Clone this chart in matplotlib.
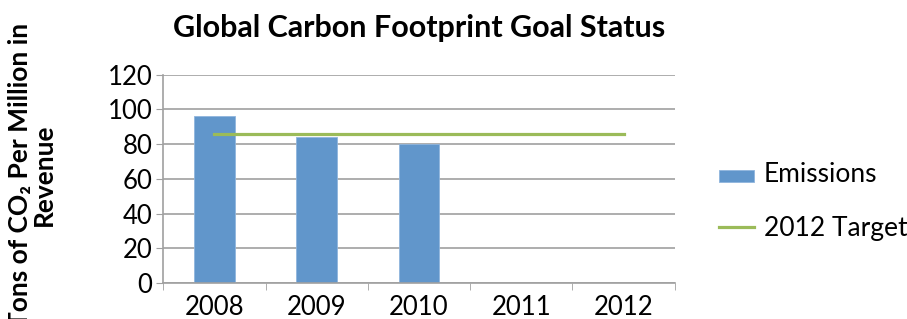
import numpy as np
import matplotlib.pyplot as plt

years = ['2008', '2009', '2010', '2011', '2012']
emissions = [96, 84, 80, 0, 0]
target = [86, 86, 86, 86, 86]
yticks = [0, 20, 40, 60, 80, 100, 120]

bar_color = '#6196CB'
line_color = '#9BBB59'
grid_color = '#A0A0A0'
fonts = ['Lato', 'DejaVu Sans']

plt.rcParams['font.family'] = fonts

fig = plt.figure(figsize=(9.07, 3.19), dpi=100)
ax = fig.add_axes([0.18, 0.113, 0.564, 0.653])

x = np.arange(len(years))
shown = [i for i, v in enumerate(emissions) if v > 0]
bars = ax.bar(x[shown], [emissions[i] for i in shown], width=0.4, color=bar_color,
              edgecolor='#8fb5dd', linewidth=0.6, label='Emissions', zorder=2)
line, = ax.plot(x, target, color=line_color, linewidth=2.3, label='2012 Target', zorder=3)

ax.set_xlim(-0.5, len(years) - 0.5)
ax.set_ylim(0, 120)
ax.set_yticks(yticks)
ax.set_xticks(x)
ax.set_xticklabels(years)
ax.set_xticks(np.arange(len(years) + 1) - 0.5, minor=True)
ax.tick_params(axis='x', which='major', length=0, labelsize=18.5, pad=9)
ax.tick_params(axis='x', which='minor', length=5, color=grid_color)
ax.tick_params(axis='y', length=5, color=grid_color, labelsize=18.5, pad=3)

ax.yaxis.grid(True, color=grid_color, linewidth=1.2, zorder=0)
ax.set_axisbelow(True)
for side in ['top', 'right']:
    ax.spines[side].set_visible(False)
for side in ['left', 'bottom']:
    ax.spines[side].set_color(grid_color)
    ax.spines[side].set_linewidth(1.2)

ax.set_title('Global Carbon Footprint Goal Status', fontsize=22, fontweight='bold', pad=27)
ax.set_ylabel('Tons of CO\u2082 Per Million in\nRevenue', fontsize=19, fontweight='bold',
              linespacing=1.0)
ax.yaxis.set_label_coords(-0.21, 0.52)

leg = fig.legend([bars, line], ['Emissions', '2012 Target'], loc='center left',
                 bbox_to_anchor=(0.793, 0.367), frameon=False, borderpad=0,
                 borderaxespad=0, fontsize=19, labelspacing=1.1, handlelength=1.3,
                 handletextpad=0.4)
for h in leg.legend_handles:
    if hasattr(h, 'set_height'):
        h.set_height(9)

fig.savefig('out.png', dpi=100)
